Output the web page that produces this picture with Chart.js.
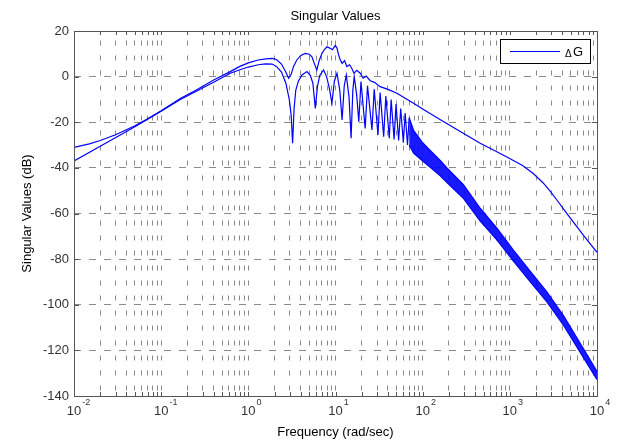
<!DOCTYPE html>
<html>
<head>
<meta charset="utf-8">
<script src="https://cdn.jsdelivr.net/npm/chart.js@4/dist/chart.umd.min.js"></script>
<style>
  html, body { margin: 0; padding: 0; background: #fff; }
</style>
</head>
<body>
<canvas id="chart" width="617" height="443"></canvas>
<script>
// largest singular value (rad/sec, dB)
const upperFreq = [0.01, 0.015, 0.02, 0.03, 0.05, 0.07, 0.1, 0.166, 0.25, 0.4, 0.62, 0.8, 1.0, 1.3, 1.6, 1.87, 2.1, 2.4, 2.65, 2.9,
  3.1, 3.3, 3.6, 4.0, 4.5, 5.0, 5.37, 5.75, 6.1, 6.5, 7.0, 7.5, 7.98, 8.7, 9.2, 9.95, 10.4, 10.85, 11.3, 11.9,
  12.7, 13.5, 14.5, 15.4, 16.3, 17.5, 19.2, 20.8, 22.5, 25, 28, 32.5, 40, 50.6, 63, 78.6, 100, 158, 295, 457,
  700, 960, 1400, 1870, 2400, 2900, 3500, 4500, 5500, 7000, 8500, 10000];
const upperDb = [-31, -29.5, -28, -25.5, -21.5, -18.5, -15, -9.6, -6, -1.5, 2.2, 4.5, 6, 7.3, 7.8, 8.0, 7.5, 5.5, 2.5, -0.7,
  1, 4.5, 7.3, 9.3, 10.2, 9.8, 8.7, 5.5, 2.9, 7, 10.2, 12, 13.1, 12.4, 11.8, 13.6, 12.5, 9.5, 7.5, 5.8,
  7, 4.4, 5.2, 3.6, 1.5, 2.8, 1.5, -0.7, 0.2, -1.8, -2.5, -4.4, -5.6, -7.3, -9.5, -11.7, -14.2, -18.8, -24.9, -29.2,
  -32.8, -35.6, -39, -42.6, -46.5, -50.2, -54.3, -59.9, -64.3, -69.6, -73.6, -77];

// smallest singular value, up to where it turns into a dense band
const lowerFreq = [0.01, 0.02, 0.05, 0.07, 0.1, 0.166, 0.25, 0.4, 0.62, 0.8, 1.0, 1.3, 1.57, 1.87, 2.1, 2.4, 2.7, 2.95, 3.1, 3.22,
  3.35, 3.5, 3.75, 4.13, 4.7, 5.15, 5.5, 5.87, 6.2, 6.6, 7.3, 7.9, 8.5, 9.1, 9.7, 10.4, 11.2, 11.9, 12.6, 13.3,
  14.3, 15.1, 15.8, 16.4, 17.5, 18.5, 19.6, 21.9, 23.3, 26.2, 27.8, 30.7, 32.5, 35.7, 37.8, 41.4, 43.5, 47, 49.5, 53,
  56, 60, 63, 67, 70];
const lowerDb = [-37, -30.5, -22, -18.7, -15.2, -10, -6.5, -2.5, 1.5, 3, 4.2, 5.2, 5.6, 5.5, 4.5, 2, -3, -10, -17, -29.2,
  -14, -6, -2, 0.7, 2.2, 0.5, -2.9, -13.9, -4.4, 0.5, 2.9, 0, -5, -11.6, -2, 1.5, -6, -19, -4, 0.7,
  -9, -27, -6, 0, -8, -19.8, -2.2, -22.7, -4, -23.4, -5.5, -25.6, -7, -26.3, -8.5, -27, -10, -27.5, -12, -28,
  -14, -29, -16, -30, -18];

// edges of the dense oscillation band of the smallest singular value
const bandFreq = [70, 78.6, 100, 122, 158, 190, 295, 457, 710, 1100, 1700, 2660, 4140, 6440, 10000];
const bandTop = [-18, -23.5, -29, -32.3, -36.6, -40, -47.5, -57.7, -66.4, -76.1, -85.2, -94.3, -104.9, -117, -129.2];
const bandBottom = [-30, -33.5, -37, -39.7, -43.4, -46.4, -53.5, -63.3, -71.6, -80.9, -89.8, -98.7, -109.1, -121, -132.8];

const decades = [-2, -1, 0, 1, 2, 3, 4];
const FONT = '"Liberation Sans", Arial, sans-serif';
const BLUE = '#0000ff';
const AXIS = '#555555';

Chart.defaults.font.family = FONT;

const toPoints = (xs, ys) => xs.map((x, i) => ({ x: x, y: ys[i] }));

const frame = {
  id: 'frame',
  beforeDatasetsDraw(chart) {
    const { ctx, chartArea: a, scales: { x, y } } = chart;
    ctx.save();
    ctx.strokeStyle = AXIS;
    ctx.lineWidth = 1;
    ctx.beginPath();
    x.ticks.forEach(t => {
      const px = Math.round(x.getPixelForValue(t.value)) + 0.5;
      ctx.moveTo(px, a.bottom); ctx.lineTo(px, a.bottom - 4);
      ctx.moveTo(px, a.top); ctx.lineTo(px, a.top + 4);
    });
    y.ticks.forEach(t => {
      const py = Math.round(y.getPixelForValue(t.value)) + 0.5;
      ctx.moveTo(a.left, py); ctx.lineTo(a.left + 5, py);
      ctx.moveTo(a.right, py); ctx.lineTo(a.right - 5, py);
    });
    ctx.stroke();
    ctx.restore();
  },
  afterDraw(chart) {
    const { ctx, chartArea: a, scales: { x } } = chart;
    ctx.save();
    ctx.strokeStyle = AXIS;
    ctx.lineWidth = 1;
    ctx.strokeRect(Math.round(a.left) + 0.5, Math.round(a.top) + 0.5,
      Math.round(a.right - a.left), Math.round(a.bottom - a.top));

    // x tick labels as 10 with a raised exponent
    ctx.fillStyle = '#333';
    decades.forEach(e => {
      const px = x.getPixelForValue(Math.pow(10, e));
      ctx.font = '13px ' + FONT;
      ctx.textAlign = 'center';
      const w = ctx.measureText('10').width;
      ctx.fillText('10', px, 415);
      ctx.font = '9px ' + FONT;
      ctx.textAlign = 'left';
      ctx.fillText(String(e), px + w / 2 + 1, 405);
    });

    // legend box
    const lx = 500, ly = 39, lw = 90, lh = 24;
    ctx.fillStyle = '#fff';
    ctx.fillRect(lx, ly, lw, lh);
    ctx.strokeStyle = '#000';
    ctx.strokeRect(lx + 0.5, ly + 0.5, lw, lh);
    ctx.strokeStyle = BLUE;
    ctx.beginPath();
    ctx.moveTo(510, 51.5); ctx.lineTo(560, 51.5);
    ctx.stroke();
    ctx.fillStyle = '#000';
    ctx.textAlign = 'left';
    ctx.font = '10px ' + FONT;
    ctx.fillText('\u0394', 565, 57);
    ctx.font = '13px ' + FONT;
    ctx.fillText('G', 573, 56);
    ctx.restore();
  }
};

const line = { borderColor: BLUE, borderWidth: 1.2, pointRadius: 0, fill: false };

new Chart(document.getElementById('chart'), {
  type: 'line',
  data: {
    datasets: [
      { ...line, label: '\u0394G', data: toPoints(upperFreq, upperDb) },
      { ...line, label: 'lower', data: toPoints(lowerFreq, lowerDb) },
      { ...line, label: 'band top', data: toPoints(bandFreq, bandTop) },
      { ...line, label: 'band bottom', data: toPoints(bandFreq, bandBottom),
        fill: '-1', backgroundColor: 'rgba(0, 0, 255, 0.9)' }
    ]
  },
  options: {
    responsive: false,
    animation: false,
    devicePixelRatio: 1,
    layout: { padding: { left: 0, right: 20, top: 0, bottom: 0 } },
    plugins: {
      legend: { display: false },
      tooltip: { enabled: false },
      title: {
        display: true,
        fullSize: false,
        text: 'Singular Values',
        color: '#000',
        font: { size: 13, weight: 'normal' },
        padding: { top: 9, bottom: 6.4 }
      }
    },
    scales: {
      x: {
        type: 'logarithmic',
        min: 0.01,
        max: 10000,
        afterBuildTicks: (scale) => {
          const ticks = [];
          decades.forEach(e => {
            for (let m = 1; m < 10; m++) {
              if (e < 4 || m === 1) ticks.push({ value: m * Math.pow(10, e) });
            }
          });
          scale.ticks = ticks;
        },
        afterFit: (scale) => { scale.height = 47; },
        ticks: { display: false },
        grid: { color: '#8a8a8a', lineWidth: 1, drawTicks: false },
        border: { display: false, dash: [5, 10], dashOffset: 5.5 },
        title: {
          display: true,
          text: 'Frequency (rad/sec)',
          color: '#000',
          font: { size: 13 },
          padding: { top: 0, bottom: 3 }
        }
      },
      y: {
        type: 'linear',
        min: -140,
        max: 20,
        afterFit: (scale) => { scale.width = 74; },
        ticks: { stepSize: 20, color: '#333', font: { size: 13 }, padding: 5 },
        grid: { color: '#8a8a8a', lineWidth: 1, drawTicks: false },
        border: { display: false, dash: [7, 8] },
        title: {
          display: true,
          text: 'Singular Values (dB)',
          color: '#000',
          font: { size: 13 },
          padding: { top: 19.2, bottom: 0 }
        }
      }
    }
  },
  plugins: [frame]
});
</script>
</body>
</html>
